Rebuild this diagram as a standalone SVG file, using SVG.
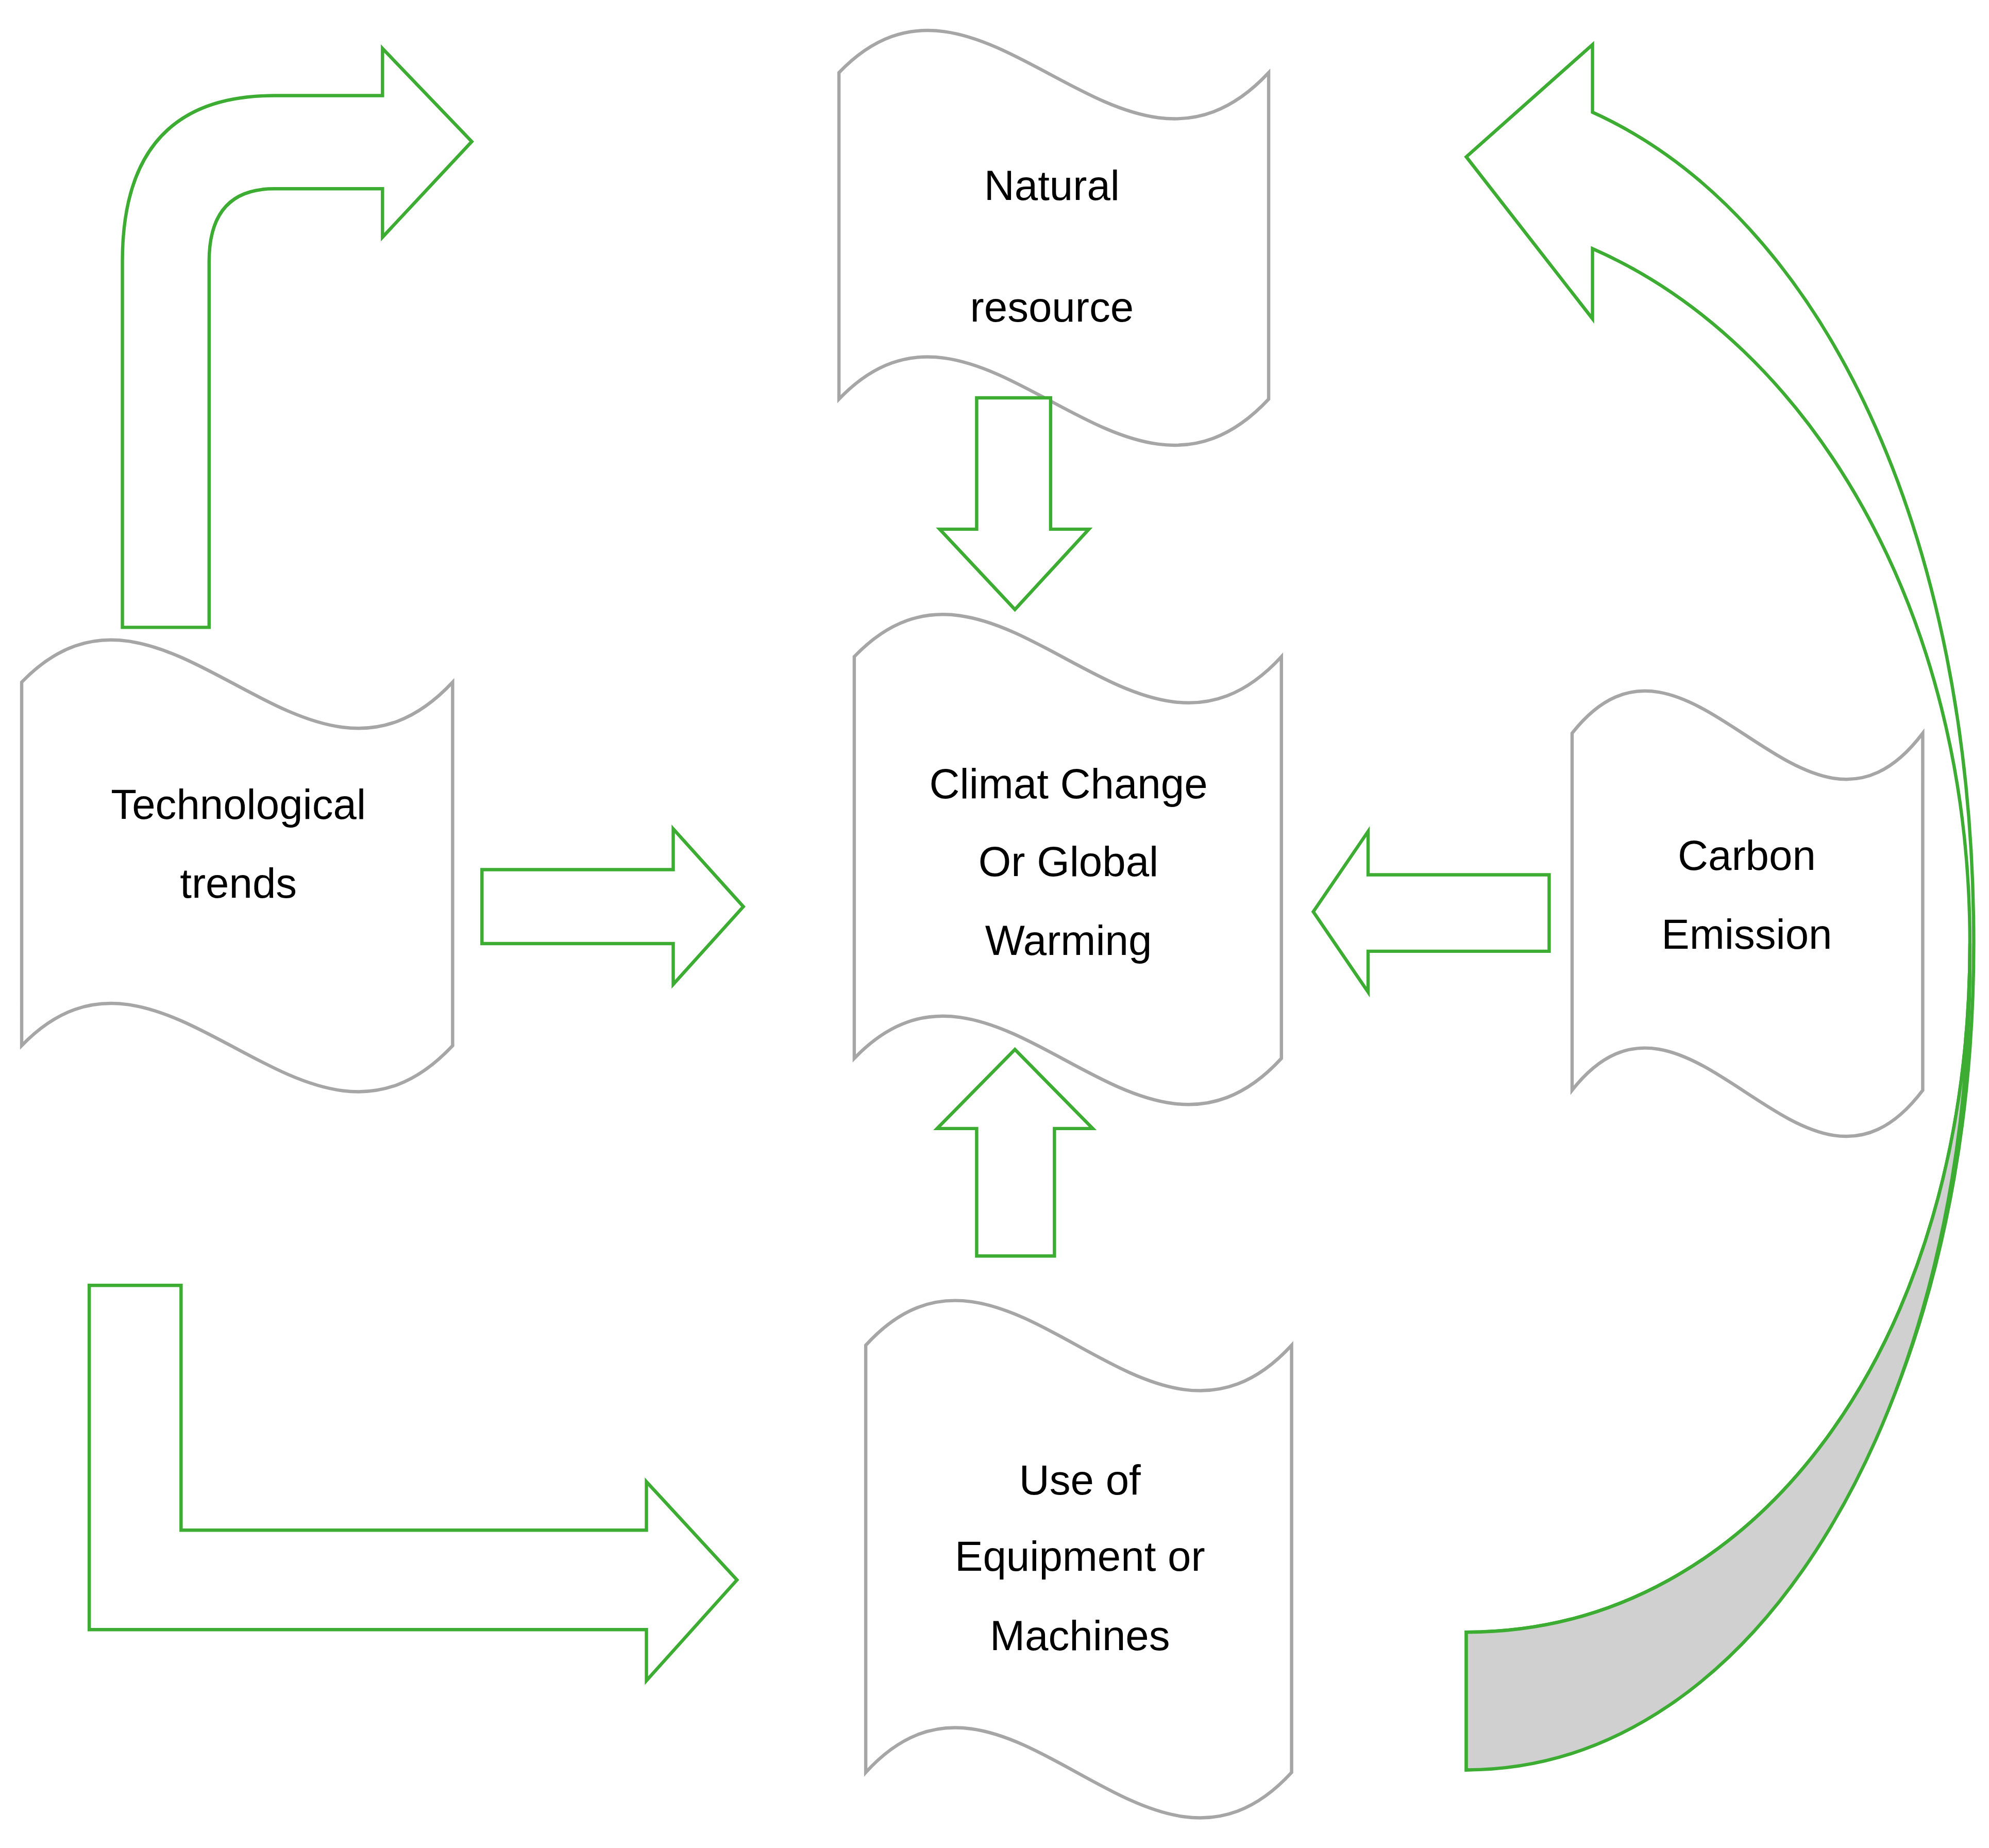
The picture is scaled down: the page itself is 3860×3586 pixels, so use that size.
<svg xmlns="http://www.w3.org/2000/svg" width="3860" height="3586" viewBox="0 0 3860 3586">
<style>
.n{fill:#fff;stroke:#a6a6a6;stroke-width:2.6}
.a{fill:#fff;stroke:#3cad32;stroke-width:2.6;stroke-linejoin:miter}
text{font-family:"Liberation Sans",Arial,sans-serif;font-size:33px;fill:#000;text-anchor:middle}
</style>
<rect width="3860" height="3586" fill="#fff"/>
<g transform="scale(2.4744)">
<g id="node-natural">
<path class="n" d="M658,57 C770,-60 880,180 995,57 L995,313 C880,436 770,196 658,313 Z"/>
<text x="825" y="157">Natural</text><text x="825" y="252">resource</text>
</g>
<g id="node-climate">
<path class="n" d="M670,515 C782,398 892,638 1005,515 L1005,830 C892,953 782,713 670,830 Z"/>
<text x="838" y="626">Climat Change</text><text x="838" y="687">Or Global</text><text x="838" y="749">Warming</text>
</g>
<g id="node-tech">
<path class="n" d="M17,535 C130,418 240,658 355,535 L355,820 C240,943 130,703 17,820 Z"/>
<text x="187" y="642">Technological</text><text x="187" y="704">trends</text>
</g>
<g id="node-carbon">
<path class="n" d="M1233,575 C1325,458 1415,698 1508,575 L1508,855 C1415,978 1325,738 1233,855 Z"/>
<text x="1370" y="682">Carbon</text><text x="1370" y="744">Emission</text>
</g>
<g id="node-use">
<path class="n" d="M679,1055 C790,933 900,1178 1013,1055 L1013,1390 C900,1513 790,1268 679,1390 Z"/>
<text x="847" y="1172">Use of</text><text x="847" y="1232">Equipment or</text><text x="847" y="1294">Machines</text>
</g>
<g id="connectors">
<path class="a" d="M766,312 L824,312 L824,415 L854,415 L796,478 L737,415 L766,415 Z"/>
<path class="a" d="M378,682 L528,682 L528,650 L583,711 L528,772 L528,740 L378,740 Z"/>
<path class="a" d="M1215,686 L1073,686 L1073,652 L1030,715 L1073,778 L1073,746 L1215,746 Z"/>
<path class="a" d="M766,985 L766,885 L735,885 L796,823 L857,885 L827,885 L827,985 Z"/>
<path class="a" d="M96,492 L96,205 Q96,75 215,75 L300,75 L300,38 L370,111 L300,186 L300,148 L215,148 Q164,148 164,205 L164,492 Z"/>
<path class="a" d="M70,1008 L142,1008 L142,1200 L507,1200 L507,1162 L578,1239 L507,1318 L507,1278 L70,1278 Z"/>
<path class="a" d="M1150,1388 C1380,1380 1548,1100 1548,740 C1548,420 1430,170 1249,88 L1249,35 L1150,123 L1249,250 L1249,195 C1420,270 1545,480 1545,740 C1545,1050 1380,1280 1150,1280 Z"/>
<path class="a" style="fill:#d0d0d0" d="M1150,1280 C1380,1280 1545,1050 1545,740 C1548,1100 1380,1388 1150,1388 Z"/>
</g>
</g>
</svg>
